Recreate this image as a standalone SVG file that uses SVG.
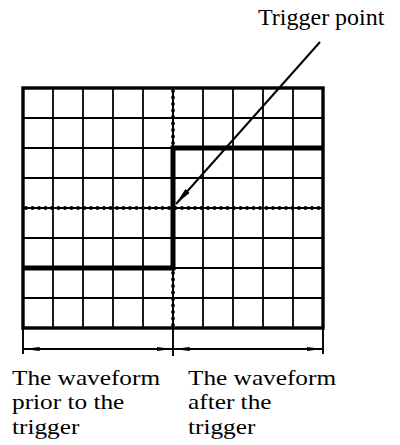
<svg xmlns="http://www.w3.org/2000/svg" width="400" height="445" viewBox="0 0 400 445">
<style>
.grid{stroke:#000;stroke-width:1.8;fill:none}
.border{stroke:#000;stroke-width:3.4;fill:none}
.axis{stroke:#000;stroke-width:2;fill:none}
.bump{stroke:#000;stroke-width:3.8;stroke-dasharray:0 6.5;stroke-linecap:round;fill:none}
.wave{stroke:#000;stroke-width:5;fill:none;stroke-linejoin:miter;stroke-linecap:square}
.dim{stroke:#000;stroke-width:1.9;fill:none}
.lbl{font-family:"Liberation Serif","Times New Roman",serif;fill:#000}
</style>
<defs>
<marker id="ah" viewBox="0 0 16 6" refX="15.5" refY="3" markerWidth="16" markerHeight="6" markerUnits="userSpaceOnUse" orient="auto-start-reverse">
<path d="M0,0.9 L16,3 L0,5.1 Q-1,3 0,0.9 Z" fill="#000"/>
</marker>
<marker id="ptr" viewBox="0 0 18 7" refX="17.5" refY="3.5" markerWidth="18" markerHeight="7" markerUnits="userSpaceOnUse" orient="auto">
<path d="M0,0.6 L18,3.5 L0,6.4 Q-1.5,3.5 0,0.6 Z" fill="#000"/>
</marker>
</defs>
<g id="screen">
<g class="grid">
<path d="M53,88V328M83,88V328M113,88V328M143,88V328M203,88V328M233,88V328M263,88V328M293,88V328"/>
<path d="M23,118H323M23,148H323M23,178H323M23,238H323M23,268H323M23,298H323"/>
</g>
<path class="axis" d="M23,208H323M173,88V328"/>
<path class="bump" d="M26,208H322M173,91V327"/>
<rect class="border" x="23" y="88" width="300" height="240"/>
</g>
<g id="waveform">
<path class="wave" d="M25,268H173V148H321"/>
</g>
<g id="connectors">
<line x1="320" y1="42" x2="176" y2="204" stroke="#000" stroke-width="2" marker-end="url(#ptr)"/>
<path class="dim" d="M23,329V354M173,329V356M323,329V354"/>
<line class="dim" x1="24" y1="349" x2="172" y2="349" marker-start="url(#ah)" marker-end="url(#ah)"/>
<line class="dim" x1="174" y1="349" x2="322" y2="349" marker-start="url(#ah)" marker-end="url(#ah)"/>
</g>
<g id="label-trigger">
<text class="lbl" x="258" y="25" font-size="24">Trigger point</text>
</g>
<g id="label-prior" transform="translate(12,0) scale(1.15,1)">
<text class="lbl" x="0" y="385" font-size="22">The waveform</text>
<text class="lbl" x="0" y="409.5" font-size="22">prior to the</text>
<text class="lbl" x="0" y="434" font-size="22">trigger</text>
</g>
<g id="label-after" transform="translate(188,0) scale(1.15,1)">
<text class="lbl" x="0" y="385" font-size="22">The waveform</text>
<text class="lbl" x="0" y="409.5" font-size="22">after the</text>
<text class="lbl" x="0" y="434" font-size="22">trigger</text>
</g>
</svg>
